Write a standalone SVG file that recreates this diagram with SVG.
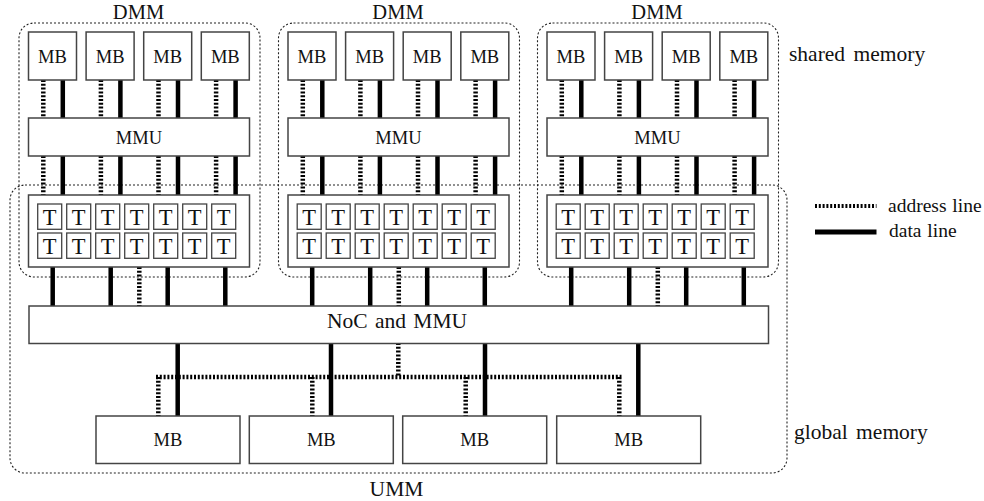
<svg xmlns="http://www.w3.org/2000/svg" width="984" height="501" viewBox="0 0 984 501">
<defs>
<style>
text{font-family:"Liberation Serif","Times New Roman",serif;fill:#111;}
.lbl{font-size:21.5px;}
.dl{font-size:20.5px;text-anchor:middle;}
.box{fill:#fff;stroke:#444;stroke-width:1.5;}
.cell{fill:#fff;stroke:#444;stroke-width:1.3;}
.region{fill:none;stroke:#222;stroke-width:1.1;stroke-dasharray:2 2;}
.data{stroke:#000;stroke-width:4.5;fill:none;}
.addr{stroke:#000;stroke-width:4.5;stroke-dasharray:2 1.8;fill:none;}
.bt{font-size:18.5px;text-anchor:middle;}
.tt{font-size:22.5px;text-anchor:middle;}
.mid{text-anchor:middle;}
</style>
</defs>

<g id="umm">
<rect class="region" x="10" y="185" width="777" height="288" rx="15"/>
<text class="lbl mid" x="396.5" y="496">UMM</text>
</g>

<g id="dmm1"><rect class="region" x="19" y="23" width="241" height="254" rx="15"/><text class="dl" x="138.5" y="18.5">DMM</text></g>
<g id="dmm2"><rect class="region" x="278.5" y="23" width="241" height="254" rx="15"/><text class="dl" x="398" y="18.5">DMM</text></g>
<g id="dmm3"><rect class="region" x="537.5" y="23" width="241" height="254" rx="15"/><text class="dl" x="657" y="18.5">DMM</text></g>

<g id="connectors">
<g>
<path class="addr" d="M43.3 80V118M100.9 80V118M158.5 80V118M216.1 80V118M43.3 156V195M100.9 156V195M158.5 156V195M216.1 156V195"/>
<path class="data" d="M62.8 80V118M120.4 80V118M178 80V118M235.6 80V118M62.8 156V195M120.4 156V195M178 156V195M235.6 156V195"/>
</g>
<g transform="translate(259.5,0)">
<path class="addr" d="M43.3 80V118M100.9 80V118M158.5 80V118M216.1 80V118M43.3 156V195M100.9 156V195M158.5 156V195M216.1 156V195"/>
<path class="data" d="M62.8 80V118M120.4 80V118M178 80V118M235.6 80V118M62.8 156V195M120.4 156V195M178 156V195M235.6 156V195"/>
</g>
<g transform="translate(518.5,0)">
<path class="addr" d="M43.3 80V118M100.9 80V118M158.5 80V118M216.1 80V118M43.3 156V195M100.9 156V195M158.5 156V195M216.1 156V195"/>
<path class="data" d="M62.8 80V118M120.4 80V118M178 80V118M235.6 80V118M62.8 156V195M120.4 156V195M178 156V195M235.6 156V195"/>
</g>
<path class="data" d="M52.7 267V306M110.7 267V306M167.7 267V306M225.3 267V306M312.2 267V306M370.2 267V306M427.2 267V306M484.8 267V306M571.2 267V306M629.2 267V306M686.2 267V306M743.8 267V306"/>
<path class="addr" d="M139.3 267V306M398.8 267V306M657.8 267V306"/>
<path class="data" d="M177.7 343V416M331 343V416M485 343V416M638.3 343V416"/>
<path class="addr" d="M398.3 343V377M156 377H621.5M158.3 377V416M312.3 377V416M465.7 377V416M619.3 377V416"/>
</g>

<g id="dmm1-mb1"><rect class="box" x="28.5" y="32" width="48" height="48"/><text class="bt" x="52.5" y="62.5">MB</text></g>
<g id="dmm1-mb2"><rect class="box" x="86.1" y="32" width="48" height="48"/><text class="bt" x="110.1" y="62.5">MB</text></g>
<g id="dmm1-mb3"><rect class="box" x="143.7" y="32" width="48" height="48"/><text class="bt" x="167.7" y="62.5">MB</text></g>
<g id="dmm1-mb4"><rect class="box" x="201.3" y="32" width="48" height="48"/><text class="bt" x="225.3" y="62.5">MB</text></g>
<g id="dmm1-mmu"><rect class="box" x="28.5" y="118" width="221" height="38"/><text class="bt" x="139" y="143.5">MMU</text></g>
<g id="dmm1-threads">
<rect class="box" x="28.5" y="195" width="221" height="72"/>
<g class="cell">
<rect x="37.7" y="204" width="24" height="25.3"/><rect x="66.7" y="204" width="24" height="25.3"/><rect x="95.7" y="204" width="24" height="25.3"/><rect x="124.7" y="204" width="24" height="25.3"/><rect x="153.7" y="204" width="24" height="25.3"/><rect x="182.7" y="204" width="24" height="25.3"/><rect x="211.7" y="204" width="24" height="25.3"/>
<rect x="37.7" y="233" width="24" height="25.3"/><rect x="66.7" y="233" width="24" height="25.3"/><rect x="95.7" y="233" width="24" height="25.3"/><rect x="124.7" y="233" width="24" height="25.3"/><rect x="153.7" y="233" width="24" height="25.3"/><rect x="182.7" y="233" width="24" height="25.3"/><rect x="211.7" y="233" width="24" height="25.3"/>
</g>
<g class="tt">
<text x="49.7" y="224.5">T</text><text x="78.7" y="224.5">T</text><text x="107.7" y="224.5">T</text><text x="136.7" y="224.5">T</text><text x="165.7" y="224.5">T</text><text x="194.7" y="224.5">T</text><text x="223.7" y="224.5">T</text>
<text x="49.7" y="253.7">T</text><text x="78.7" y="253.7">T</text><text x="107.7" y="253.7">T</text><text x="136.7" y="253.7">T</text><text x="165.7" y="253.7">T</text><text x="194.7" y="253.7">T</text><text x="223.7" y="253.7">T</text>
</g>
</g>

<g transform="translate(259.5,0)">
<g id="dmm2-mb1"><rect class="box" x="28.5" y="32" width="48" height="48"/><text class="bt" x="52.5" y="62.5">MB</text></g>
<g id="dmm2-mb2"><rect class="box" x="86.1" y="32" width="48" height="48"/><text class="bt" x="110.1" y="62.5">MB</text></g>
<g id="dmm2-mb3"><rect class="box" x="143.7" y="32" width="48" height="48"/><text class="bt" x="167.7" y="62.5">MB</text></g>
<g id="dmm2-mb4"><rect class="box" x="201.3" y="32" width="48" height="48"/><text class="bt" x="225.3" y="62.5">MB</text></g>
<g id="dmm2-mmu"><rect class="box" x="28.5" y="118" width="221" height="38"/><text class="bt" x="139" y="143.5">MMU</text></g>
<g id="dmm2-threads">
<rect class="box" x="28.5" y="195" width="221" height="72"/>
<g class="cell">
<rect x="37.7" y="204" width="24" height="25.3"/><rect x="66.7" y="204" width="24" height="25.3"/><rect x="95.7" y="204" width="24" height="25.3"/><rect x="124.7" y="204" width="24" height="25.3"/><rect x="153.7" y="204" width="24" height="25.3"/><rect x="182.7" y="204" width="24" height="25.3"/><rect x="211.7" y="204" width="24" height="25.3"/>
<rect x="37.7" y="233" width="24" height="25.3"/><rect x="66.7" y="233" width="24" height="25.3"/><rect x="95.7" y="233" width="24" height="25.3"/><rect x="124.7" y="233" width="24" height="25.3"/><rect x="153.7" y="233" width="24" height="25.3"/><rect x="182.7" y="233" width="24" height="25.3"/><rect x="211.7" y="233" width="24" height="25.3"/>
</g>
<g class="tt">
<text x="49.7" y="224.5">T</text><text x="78.7" y="224.5">T</text><text x="107.7" y="224.5">T</text><text x="136.7" y="224.5">T</text><text x="165.7" y="224.5">T</text><text x="194.7" y="224.5">T</text><text x="223.7" y="224.5">T</text>
<text x="49.7" y="253.7">T</text><text x="78.7" y="253.7">T</text><text x="107.7" y="253.7">T</text><text x="136.7" y="253.7">T</text><text x="165.7" y="253.7">T</text><text x="194.7" y="253.7">T</text><text x="223.7" y="253.7">T</text>
</g>
</g>
</g>

<g transform="translate(518.5,0)">
<g id="dmm3-mb1"><rect class="box" x="28.5" y="32" width="48" height="48"/><text class="bt" x="52.5" y="62.5">MB</text></g>
<g id="dmm3-mb2"><rect class="box" x="86.1" y="32" width="48" height="48"/><text class="bt" x="110.1" y="62.5">MB</text></g>
<g id="dmm3-mb3"><rect class="box" x="143.7" y="32" width="48" height="48"/><text class="bt" x="167.7" y="62.5">MB</text></g>
<g id="dmm3-mb4"><rect class="box" x="201.3" y="32" width="48" height="48"/><text class="bt" x="225.3" y="62.5">MB</text></g>
<g id="dmm3-mmu"><rect class="box" x="28.5" y="118" width="221" height="38"/><text class="bt" x="139" y="143.5">MMU</text></g>
<g id="dmm3-threads">
<rect class="box" x="28.5" y="195" width="221" height="72"/>
<g class="cell">
<rect x="37.7" y="204" width="24" height="25.3"/><rect x="66.7" y="204" width="24" height="25.3"/><rect x="95.7" y="204" width="24" height="25.3"/><rect x="124.7" y="204" width="24" height="25.3"/><rect x="153.7" y="204" width="24" height="25.3"/><rect x="182.7" y="204" width="24" height="25.3"/><rect x="211.7" y="204" width="24" height="25.3"/>
<rect x="37.7" y="233" width="24" height="25.3"/><rect x="66.7" y="233" width="24" height="25.3"/><rect x="95.7" y="233" width="24" height="25.3"/><rect x="124.7" y="233" width="24" height="25.3"/><rect x="153.7" y="233" width="24" height="25.3"/><rect x="182.7" y="233" width="24" height="25.3"/><rect x="211.7" y="233" width="24" height="25.3"/>
</g>
<g class="tt">
<text x="49.7" y="224.5">T</text><text x="78.7" y="224.5">T</text><text x="107.7" y="224.5">T</text><text x="136.7" y="224.5">T</text><text x="165.7" y="224.5">T</text><text x="194.7" y="224.5">T</text><text x="223.7" y="224.5">T</text>
<text x="49.7" y="253.7">T</text><text x="78.7" y="253.7">T</text><text x="107.7" y="253.7">T</text><text x="136.7" y="253.7">T</text><text x="165.7" y="253.7">T</text><text x="194.7" y="253.7">T</text><text x="223.7" y="253.7">T</text>
</g>
</g>
</g>

<g id="noc"><rect class="box" x="29" y="306" width="739.5" height="37.5"/><text class="lbl mid" x="397" y="328" style="word-spacing:2px">NoC and MMU</text></g>

<g id="gmb1"><rect class="box" x="96" y="416" width="144" height="47.5"/><text class="bt" x="168" y="445.5">MB</text></g>
<g id="gmb2"><rect class="box" x="249.3" y="416" width="144" height="47.5"/><text class="bt" x="321.3" y="445.5">MB</text></g>
<g id="gmb3"><rect class="box" x="402.7" y="416" width="144" height="47.5"/><text class="bt" x="474.7" y="445.5">MB</text></g>
<g id="gmb4"><rect class="box" x="556.7" y="416" width="144" height="47.5"/><text class="bt" x="628.7" y="445.5">MB</text></g>

<g id="labels">
<text class="lbl" x="789" y="61" style="word-spacing:3px">shared memory</text>
<text class="lbl" x="794" y="438.5" style="word-spacing:3px">global memory</text>
</g>

<g id="legend">
<path class="addr" d="M815 206H876.5" style="stroke-width:4"/>
<path class="data" d="M815 232H876.5" style="stroke-width:5"/>
<text x="888" y="212" style="font-size:19.5px;word-spacing:1px">address line</text>
<text x="889" y="237" style="font-size:19.5px;word-spacing:1px">data line</text>
</g>
</svg>
